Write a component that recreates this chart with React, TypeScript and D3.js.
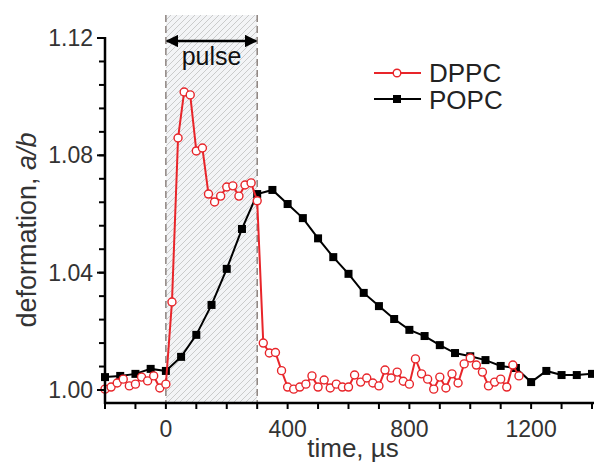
import React from 'react';
import * as d3 from 'd3';

// DPPC: time (µs) and deformation a/b
const dppcTime = [
  -200, -180, -160, -140, -120, -100, -80, -60, -40, -20, 0,
  20, 40, 60, 80, 100, 120, 140, 160, 180, 200, 220, 240, 260, 280, 300,
  320, 340, 360, 380, 400, 420, 440, 460, 480, 500, 520, 540, 560, 580, 600,
  620, 640, 660, 680, 700, 720, 740, 760, 780, 800, 820, 840, 860, 880, 900,
  920, 940, 960, 980, 1000, 1020, 1040, 1060, 1080, 1100, 1120, 1140, 1160,
];
const dppcValue = [
  1.0003, 1.001, 1.0024, 1.0037, 1.0014, 1.002, 1.0044, 1.0031, 1.0048, 1.0007, 1.002,
  1.030, 1.0859, 1.1016, 1.1006, 1.0815, 1.0825, 1.0668, 1.0641, 1.0661, 1.0692, 1.0696, 1.0661, 1.0699, 1.0706, 1.0645,
  1.016, 1.0126, 1.0128, 1.0066, 1.001, 1.0003, 1.001, 1.002, 1.0048, 1.001, 1.0034, 1.0007, 1.002, 1.001, 1.001,
  1.0051, 1.0027, 1.0041, 1.0024, 1.0014, 1.0068, 1.0041, 1.0061, 1.003, 1.002, 1.0106, 1.0055, 1.0037, 1.0003, 1.0044,
  1.0007, 1.0055, 1.0024, 1.0089, 1.0109, 1.0085, 1.0061, 1.0014, 1.0027, 1.0037, 1.001, 1.0085, 1.0048,
];

// POPC: time (µs) and deformation a/b
const popcTime = [
  -200, -150, -100, -50, 0, 50, 100, 150, 200, 250, 300, 350, 400, 450, 500, 550, 600,
  650, 700, 750, 800, 850, 900, 950, 1000, 1050, 1100, 1150, 1200, 1250, 1300, 1350, 1400,
];
const popcValue = [
  1.0044, 1.0048, 1.0055, 1.0072, 1.0065, 1.0113, 1.0188, 1.029, 1.0413, 1.0549, 1.0668, 1.0682, 1.0634, 1.0586, 1.0517, 1.0453, 1.0396,
  1.0331, 1.0286, 1.0242, 1.0205, 1.0184, 1.0153, 1.0126, 1.0115, 1.0102, 1.0082, 1.0075, 1.0027, 1.0065, 1.0051, 1.0051, 1.0055,
];

const pulseRange = [0, 300];
const xTicks = [0, 400, 800, 1200];
const yTicks = [1.0, 1.04, 1.08, 1.12];

const font = '"Liberation Sans", Arial, sans-serif';

export default function App() {
  const W = 594, H = 464;
  const left = 105, right = 592, top = 38, bottom = 403;

  const x = d3.scaleLinear().domain([-200, 1400]).range([left, right]);
  const y = d3.scaleLinear().domain([0.99557, 1.12]).range([bottom, top]);

  const dppc = dppcTime.map((t, i) => [t, dppcValue[i]] as [number, number]);
  const popc = popcTime.map((t, i) => [t, popcValue[i]] as [number, number]);

  const line = d3.line<[number, number]>().x(d => x(d[0])).y(d => y(d[1]));

  const xMinor = d3.range(-200, 1401, 100);
  const yMinor = d3.range(1.0, 1.1201, 0.008);

  const px0 = x(pulseRange[0]), px1 = x(pulseRange[1]);
  const sq = 8;

  return (
    <svg width={W} height={H} style={{ position: 'absolute', left: 0, top: 0, background: '#fff' }}>
      <defs>
        <pattern id="hatch" patternUnits="userSpaceOnUse" width={6} height={6}>
          <rect width={6} height={6} fill="#f3f4f6" />
          <path d="M0,6 L6,0 M-1,1 L1,-1 M5,7 L7,5" stroke="#b9b9b9" strokeWidth={0.7} />
        </pattern>
        <marker id="ah" viewBox="0 0 10 10" refX={9} refY={5} markerWidth={5} markerHeight={5} orient="auto-start-reverse">
          <path d="M0,0 L10,5 L0,10 z" fill="#000" />
        </marker>
      </defs>

      {/* pulse window */}
      <rect x={px0} y={15} width={px1 - px0} height={bottom - 15} fill="url(#hatch)" />
      {pulseRange.map(v => (
        <line key={v} x1={x(v)} x2={x(v)} y1={15} y2={bottom} stroke="#857b77" strokeWidth={1.4} strokeDasharray="7,4" />
      ))}
      <line x1={px0 + 1} x2={px1 - 1} y1={41} y2={41} stroke="#000" strokeWidth={2.5}
        markerStart="url(#ah)" markerEnd="url(#ah)" />
      <text x={(px0 + px1) / 2} y={65} textAnchor="middle" fontFamily={font} fontSize={25} fill="#111">pulse</text>

      {/* POPC */}
      <path d={line(popc) || ''} fill="none" stroke="#000" strokeWidth={2} />
      {popc.map((d, i) => (
        <rect key={i} x={x(d[0]) - sq / 2} y={y(d[1]) - sq / 2} width={sq} height={sq} fill="#000" />
      ))}

      {/* DPPC */}
      <path d={line(dppc) || ''} fill="none" stroke="#e8252a" strokeWidth={2} />
      {dppc.map((d, i) => (
        <circle key={i} cx={x(d[0])} cy={y(d[1])} r={4} fill="#fff" stroke="#e8252a" strokeWidth={1.4} />
      ))}

      {/* axes */}
      <line x1={left} x2={left} y1={top - 1} y2={bottom + 1} stroke="#000" strokeWidth={2.5} />
      <line x1={left - 1} x2={W} y1={bottom} y2={bottom} stroke="#000" strokeWidth={2.5} />
      {xMinor.map(v => (
        <line key={v} x1={x(v)} x2={x(v)} y1={bottom} y2={bottom + 6} stroke="#000" strokeWidth={2} />
      ))}
      {yMinor.map(v => (
        <line key={v} x1={left - 6} x2={left} y1={y(v)} y2={y(v)} stroke="#000" strokeWidth={2} />
      ))}
      {yTicks.map(v => (
        <line key={v} x1={left - 8} x2={left} y1={y(v)} y2={y(v)} stroke="#000" strokeWidth={2} />
      ))}
      {xTicks.map(v => (
        <text key={v} x={x(v)} y={437} textAnchor="middle" fontFamily={font} fontSize={23} fill="#333">{v}</text>
      ))}
      {yTicks.map(v => (
        <text key={v} x={93} y={y(v) + 8} textAnchor="end" fontFamily={font} fontSize={23} fill="#333">{d3.format('.2f')(v)}</text>
      ))}

      {/* axis titles */}
      <text x={353} y={457} textAnchor="middle" fontFamily={font} fontSize={26} fill="#333">time, µs</text>
      <text transform={`translate(36,230) rotate(-90)`} textAnchor="middle" fontFamily={font} fontSize={27} fill="#333">
        deformation, <tspan fontStyle="italic">a/b</tspan>
      </text>

      {/* legend */}
      <line x1={374} x2={421} y1={73} y2={73} stroke="#e8252a" strokeWidth={2} />
      <circle cx={397} cy={73} r={3.8} fill="#fff" stroke="#e8252a" strokeWidth={1.4} />
      <text x={429} y={82} fontFamily={font} fontSize={26} fill="#222">DPPC</text>
      <line x1={374} x2={421} y1={99} y2={99} stroke="#000" strokeWidth={2} />
      <rect x={397 - sq / 2} y={99 - sq / 2} width={sq} height={sq} fill="#000" />
      <text x={429} y={109} fontFamily={font} fontSize={26} fill="#222">POPC</text>
    </svg>
  );
}
